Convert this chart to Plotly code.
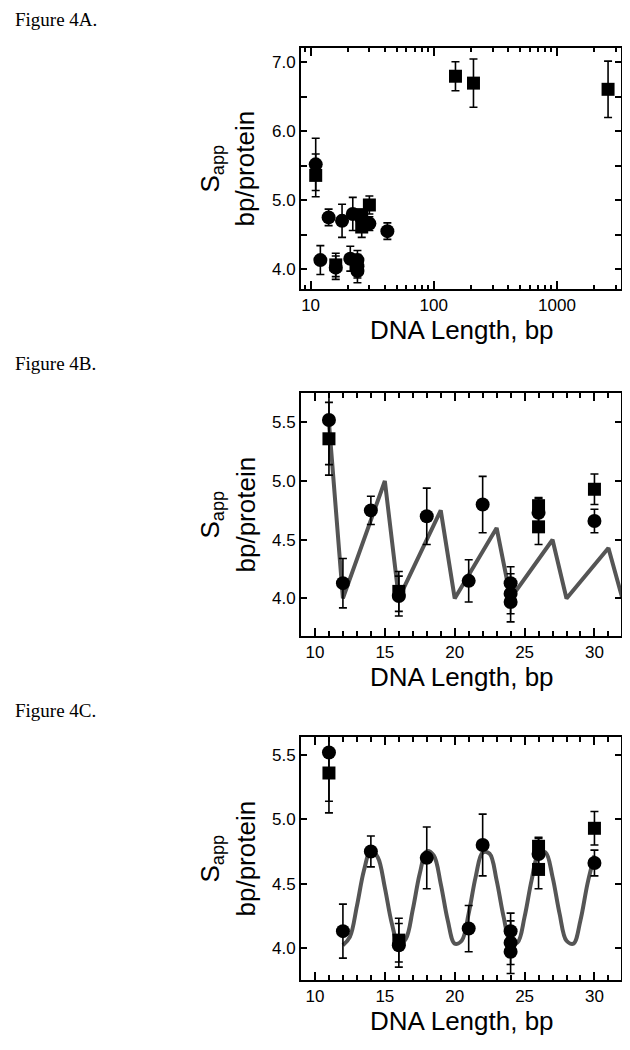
import plotly.graph_objects as go

OFF = 8  # page body margin around the plot div
FW, FH = 614, 1032  # keep the page free of scrollbars

# filled circles: DNA length (bp), S_app (bp/protein), error
circ_len = [11, 12, 14, 16, 18, 21, 22, 24, 24, 24, 26, 30, 42]
circ_s = [5.52, 4.13, 4.75, 4.02, 4.70, 4.15, 4.80, 4.13, 4.04, 3.97, 4.73, 4.66, 4.55]
circ_err = [0.38, 0.21, 0.12, 0.17, 0.24, 0.18, 0.24, 0.14, 0.17, 0.17, 0.12, 0.10, 0.12]

# filled squares
sq_len = [11, 16, 26, 26, 30, 150, 210, 2600]
sq_s = [5.36, 4.06, 4.79, 4.61, 4.93, 6.80, 6.70, 6.61]
sq_err = [0.31, 0.17, 0.07, 0.15, 0.13, 0.21, 0.35, 0.41]

# saw-tooth model (Fig 4B)
saw_len = [11, 12, 15, 16, 19, 20, 23, 24, 27, 28, 31, 32]
saw_s = [5.5, 4.0, 5.0, 4.0, 4.75, 4.0, 4.6, 4.0, 4.5, 4.0, 4.43, 4.0]

# periodic fit (Fig 4C)
fit_len = [12.0, 12.5, 13.0, 13.5, 14.0, 14.5, 15.0, 15.5, 16.0, 16.5, 17.0, 17.5,
           18.0, 18.5, 19.0, 19.5, 20.0, 20.5, 21.0, 21.5, 22.0, 22.5, 23.0, 23.5,
           24.0, 24.5, 25.0, 25.5, 26.0, 26.5, 27.0, 27.5, 28.0, 28.5, 29.0, 29.5, 30.0]
fit_s = [4.02, 4.085, 4.325, 4.60, 4.758, 4.703, 4.469, 4.19, 4.025, 4.069, 4.297, 4.578,
         4.751, 4.718, 4.498, 4.215, 4.033, 4.055, 4.268, 4.552, 4.742, 4.732, 4.525, 4.241,
         4.043, 4.043, 4.241, 4.525, 4.732, 4.742, 4.552, 4.268, 4.055, 4.033, 4.215, 4.498, 4.718]

FONT = "Liberation Sans"


def px_x(x):
    return (x - OFF) / FW


def px_y(y):
    return 1 - (y - OFF) / FH


def points(xa, ya):
    err = dict(type="data", visible=True, color="black", thickness=1.6, width=4)
    c = go.Scatter(x=circ_len, y=circ_s, mode="markers", xaxis=xa, yaxis=ya,
                   marker=dict(symbol="circle", size=14, color="black"),
                   error_y=dict(array=circ_err, **err), showlegend=False)
    s = go.Scatter(x=sq_len, y=sq_s, mode="markers", xaxis=xa, yaxis=ya,
                   marker=dict(symbol="square", size=13, color="black"),
                   error_y=dict(array=sq_err, **err), showlegend=False)
    return [c, s]


fig = go.Figure()
for t in points("x", "y"):
    fig.add_trace(t)
fig.add_trace(go.Scatter(x=saw_len, y=saw_s, mode="lines", xaxis="x2", yaxis="y2",
                         line=dict(color="#555555", width=4), showlegend=False))
for t in points("x2", "y2"):
    fig.add_trace(t)
fig.add_trace(go.Scatter(x=fit_len, y=fit_s, mode="lines", xaxis="x3", yaxis="y3",
                         line=dict(color="#555555", width=4, shape="spline"), showlegend=False))
for t in points("x3", "y3"):
    fig.add_trace(t)

common = dict(showline=True, linecolor="black", linewidth=2, mirror="allticks",
              ticks="inside", tickcolor="black", tickwidth=1.5, showgrid=False,
              zeroline=False, tickfont=dict(family=FONT, size=17, color="black"))

xdom = [px_x(301), px_x(621)]
minor_log = [2, 3, 4, 5, 6, 7, 8, 9, 20, 30, 40, 50, 60, 70, 80, 90,
             200, 300, 400, 500, 600, 700, 800, 900, 2000, 3000]

fig.update_layout(
    width=FW, height=FH, margin=dict(l=0, r=0, t=0, b=0),
    paper_bgcolor="white", plot_bgcolor="white",
    xaxis=dict(domain=xdom, anchor="y", type="log", range=[0.922, 3.52],
               tickvals=[10, 100, 1000], ticktext=["10", "100", "1000"], ticklen=8,
               minor=dict(tickvals=minor_log, ticks="inside", ticklen=4, tickcolor="black", tickwidth=1.5),
               **common),
    yaxis=dict(domain=[px_y(289), px_y(48)], anchor="x", range=[3.71, 7.21],
               tick0=4, dtick=1, tickformat=".1f", ticklen=6,
               minor=dict(dtick=0.5, ticks="inside", ticklen=6, tickcolor="black", tickwidth=1.5),
               **common),
    xaxis2=dict(domain=xdom, anchor="y2", range=[9, 31.9], tick0=10, dtick=5, ticklen=8,
                minor=dict(dtick=1, ticks="inside", ticklen=5, tickcolor="black", tickwidth=1.5),
                **common),
    yaxis2=dict(domain=[px_y(636), px_y(393)], anchor="x2", range=[3.68, 5.75],
                tick0=4, dtick=0.5, tickformat=".1f", ticklen=6, **common),
    xaxis3=dict(domain=xdom, anchor="y3", range=[9, 31.9], tick0=10, dtick=5, ticklen=8,
                minor=dict(dtick=1, ticks="inside", ticklen=5, tickcolor="black", tickwidth=1.5),
                **common),
    yaxis3=dict(domain=[px_y(980), px_y(737)], anchor="x3", range=[3.75, 5.64],
                tick0=4, dtick=0.5, tickformat=".1f", ticklen=6, **common),
)

ann = []
for label, ylab in [("Figure 4A.", 19), ("Figure 4B.", 364), ("Figure 4C.", 710)]:
    ann.append(dict(text=label, x=px_x(13), y=px_y(ylab), xref="paper", yref="paper",
                    xanchor="left", yanchor="middle", showarrow=False,
                    font=dict(family="Liberation Serif", size=19, color="black")))

for top, bot in [(48, 289), (393, 636), (737, 980)]:
    mid = (top + bot) / 2
    ann.append(dict(text="S<sub>app</sub>", x=px_x(211), y=px_y(mid), xref="paper", yref="paper",
                    xanchor="center", yanchor="middle", textangle=-90, showarrow=False,
                    font=dict(family=FONT, size=26, color="black")))
    ann.append(dict(text="bp/protein", x=px_x(245), y=px_y(mid), xref="paper", yref="paper",
                    xanchor="center", yanchor="middle", textangle=-90, showarrow=False,
                    font=dict(family=FONT, size=26, color="black")))
    ann.append(dict(text="DNA Length, bp", x=px_x(462), y=px_y(bot + 41), xref="paper", yref="paper",
                    xanchor="center", yanchor="middle", showarrow=False,
                    font=dict(family=FONT, size=26, color="black")))

fig.update_layout(annotations=ann)
fig.write_html("out.html")
